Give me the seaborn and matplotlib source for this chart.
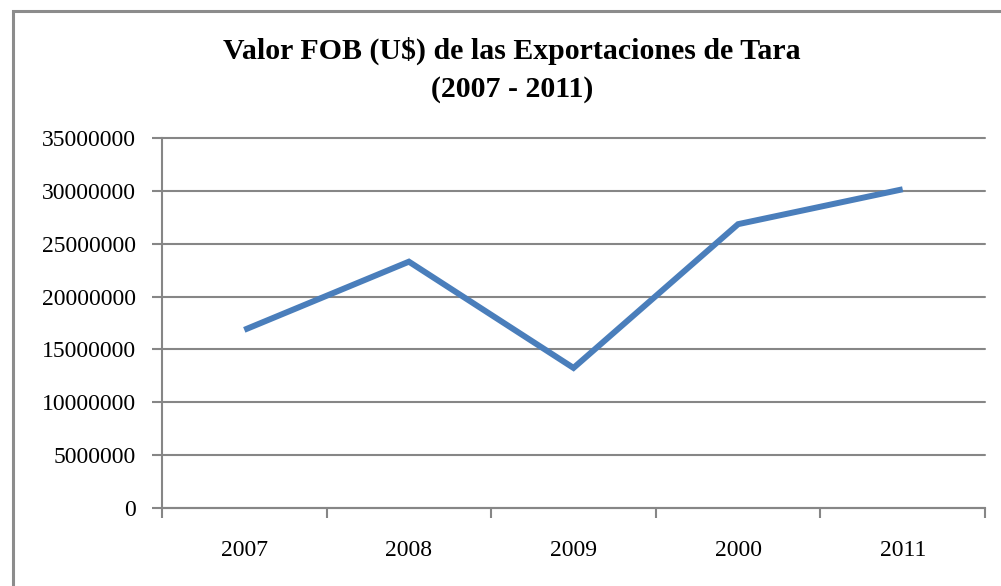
import matplotlib
matplotlib.use("Agg")
import matplotlib.pyplot as plt
import seaborn as sns
import pandas as pd
import numpy as np
from matplotlib.patches import Rectangle
from matplotlib.ticker import FixedLocator

years = ["2007", "2008", "2009", "2000", "2011"]
fob_values = [16850000, 23300000, 13250000, 26850000, 30150000]
y_ticks = [0, 5000000, 10000000, 15000000, 20000000, 25000000, 30000000, 35000000]
title = "Valor FOB (U$) de las Exportaciones de Tara\n(2007 - 2011)"

sns.set_style("white")
plt.rcParams["font.family"] = ["Liberation Serif", "DejaVu Serif"]
plt.rcParams["text.color"] = "black"
plt.rcParams["xtick.color"] = "black"
plt.rcParams["ytick.color"] = "black"

df = pd.DataFrame({"year": years, "value": fob_values})

fig = plt.figure(figsize=(10.01, 5.86), dpi=100)
ax = fig.add_axes([162/1001, 78/586, (985-162)/1001, (508-138)/586])

grid_col = "#868686"
sns.lineplot(data=df, x="year", y="value", ax=ax, color="#4A7EBB", linewidth=4.3,
             solid_capstyle="butt", solid_joinstyle="miter")

ax.set_xlim(-0.5, len(years) - 0.5)
ax.set_ylim(0, 35000000)
ax.set_yticks(y_ticks)
ax.set_yticklabels([str(v) for v in y_ticks], fontsize=17)
ax.set_xticks(range(len(years)))
ax.set_xticklabels(years, fontsize=17)
ax.xaxis.set_minor_locator(FixedLocator(np.arange(-0.5, len(years), 1.0)))
ax.tick_params(axis="x", which="major", bottom=False, length=0, pad=23, labelcolor="black")
ax.tick_params(axis="x", which="minor", bottom=True, length=7, width=1.5, color=grid_col, direction="out")
ax.tick_params(axis="y", which="major", left=True, length=7, width=1.5, color=grid_col, pad=12,
               direction="out", labelcolor="black")
ax.set_xlabel("")
ax.set_ylabel("")
ax.grid(axis="y", color=grid_col, linewidth=1.5)
ax.grid(axis="x", visible=False)
ax.set_axisbelow(True)
for gl in ax.get_ygridlines():
    gl.set_clip_on(False)
for s in ["top", "right"]:
    ax.spines[s].set_visible(False)
for s in ["left", "bottom"]:
    ax.spines[s].set_color(grid_col)
    ax.spines[s].set_linewidth(1.5)

fig.text(512/1001, 1 - 70/586, title, ha="center", va="center", fontsize=21.5,
         fontweight="bold", linespacing=1.5, color="black")

fig.patches.append(Rectangle((12.5/1001, -0.05), 1.1, 1 - 11.5/586 + 0.05,
                             transform=fig.transFigure, fill=False,
                             edgecolor="#8c8c8c", linewidth=2.2))

fig.savefig("out.png", dpi=100, facecolor="white")
